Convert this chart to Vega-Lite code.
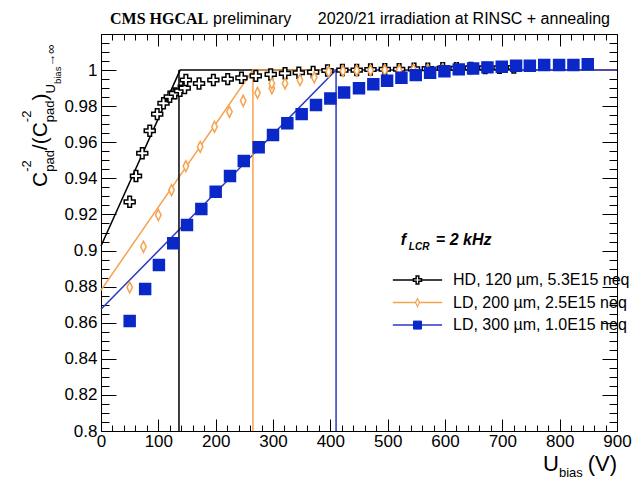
{
  "$schema": "https://vega.github.io/schema/vega-lite/v6.json",
  "width": 516,
  "height": 397,
  "autosize": {"type": "none"},
  "padding": {"left": 101, "top": 34, "right": 18, "bottom": 50},
  "background": "white",
  "config": {
    "view": {"stroke": "black", "strokeWidth": 1},
    "axis": {"domain": false, "grid": false, "tickColor": "black", "tickWidth": 1, "labelFont": "Liberation Sans", "labelFontSize": 17, "labelColor": "black", "labelFlush": false, "labelOverlap": false, "labelBound": false}
  },
  "datasets": {
    "pts": [
      {"s": "HD, 120 µm, 5.3E15 neq", "u": 50, "r": 0.927},
      {"s": "HD, 120 µm, 5.3E15 neq", "u": 61, "r": 0.9413},
      {"s": "HD, 120 µm, 5.3E15 neq", "u": 72, "r": 0.9539},
      {"s": "HD, 120 µm, 5.3E15 neq", "u": 85, "r": 0.9664},
      {"s": "HD, 120 µm, 5.3E15 neq", "u": 98, "r": 0.9756},
      {"s": "HD, 120 µm, 5.3E15 neq", "u": 109, "r": 0.9816},
      {"s": "HD, 120 µm, 5.3E15 neq", "u": 120, "r": 0.9852},
      {"s": "HD, 120 µm, 5.3E15 neq", "u": 129, "r": 0.9871},
      {"s": "HD, 120 µm, 5.3E15 neq", "u": 138, "r": 0.9885},
      {"s": "HD, 120 µm, 5.3E15 neq", "u": 146, "r": 0.990},
      {"s": "HD, 120 µm, 5.3E15 neq", "u": 148, "r": 0.9945},
      {"s": "HD, 120 µm, 5.3E15 neq", "u": 171, "r": 0.9926},
      {"s": "HD, 120 µm, 5.3E15 neq", "u": 196, "r": 0.9945},
      {"s": "HD, 120 µm, 5.3E15 neq", "u": 221, "r": 0.995},
      {"s": "HD, 120 µm, 5.3E15 neq", "u": 245, "r": 0.9957},
      {"s": "HD, 120 µm, 5.3E15 neq", "u": 270, "r": 0.9968},
      {"s": "HD, 120 µm, 5.3E15 neq", "u": 296, "r": 0.9976},
      {"s": "HD, 120 µm, 5.3E15 neq", "u": 321, "r": 0.9982},
      {"s": "HD, 120 µm, 5.3E15 neq", "u": 345, "r": 0.9985},
      {"s": "HD, 120 µm, 5.3E15 neq", "u": 370, "r": 0.9989},
      {"s": "HD, 120 µm, 5.3E15 neq", "u": 395, "r": 0.9998},
      {"s": "HD, 120 µm, 5.3E15 neq", "u": 421, "r": 1.0},
      {"s": "HD, 120 µm, 5.3E15 neq", "u": 446, "r": 1.0},
      {"s": "HD, 120 µm, 5.3E15 neq", "u": 470, "r": 1.0003},
      {"s": "HD, 120 µm, 5.3E15 neq", "u": 495, "r": 1.0005},
      {"s": "HD, 120 µm, 5.3E15 neq", "u": 520, "r": 1.0005},
      {"s": "HD, 120 µm, 5.3E15 neq", "u": 546, "r": 1.0007},
      {"s": "HD, 120 µm, 5.3E15 neq", "u": 570, "r": 1.0008},
      {"s": "HD, 120 µm, 5.3E15 neq", "u": 596, "r": 1.001},
      {"s": "HD, 120 µm, 5.3E15 neq", "u": 620, "r": 1.001},
      {"s": "HD, 120 µm, 5.3E15 neq", "u": 645, "r": 1.0012},
      {"s": "HD, 120 µm, 5.3E15 neq", "u": 670, "r": 1.0012},
      {"s": "HD, 120 µm, 5.3E15 neq", "u": 695, "r": 1.0013},
      {"s": "HD, 120 µm, 5.3E15 neq", "u": 720, "r": 1.0014},
      {"s": "LD, 200 µm, 2.5E15 neq", "u": 50, "r": 0.8796},
      {"s": "LD, 200 µm, 2.5E15 neq", "u": 74, "r": 0.9021},
      {"s": "LD, 200 µm, 2.5E15 neq", "u": 100, "r": 0.9197},
      {"s": "LD, 200 µm, 2.5E15 neq", "u": 123, "r": 0.9335},
      {"s": "LD, 200 µm, 2.5E15 neq", "u": 148, "r": 0.9468},
      {"s": "LD, 200 µm, 2.5E15 neq", "u": 173, "r": 0.9575},
      {"s": "LD, 200 µm, 2.5E15 neq", "u": 198, "r": 0.9686},
      {"s": "LD, 200 µm, 2.5E15 neq", "u": 224, "r": 0.9769},
      {"s": "LD, 200 µm, 2.5E15 neq", "u": 248, "r": 0.983},
      {"s": "LD, 200 µm, 2.5E15 neq", "u": 273, "r": 0.9874},
      {"s": "LD, 200 µm, 2.5E15 neq", "u": 298, "r": 0.9899},
      {"s": "LD, 200 µm, 2.5E15 neq", "u": 298, "r": 0.9926},
      {"s": "LD, 200 µm, 2.5E15 neq", "u": 321, "r": 0.9926},
      {"s": "LD, 200 µm, 2.5E15 neq", "u": 347, "r": 0.9945},
      {"s": "LD, 200 µm, 2.5E15 neq", "u": 372, "r": 0.996},
      {"s": "LD, 200 µm, 2.5E15 neq", "u": 397, "r": 0.9991},
      {"s": "LD, 200 µm, 2.5E15 neq", "u": 422, "r": 0.9995},
      {"s": "LD, 200 µm, 2.5E15 neq", "u": 446, "r": 0.9997},
      {"s": "LD, 200 µm, 2.5E15 neq", "u": 470, "r": 0.9998},
      {"s": "LD, 200 µm, 2.5E15 neq", "u": 495, "r": 1.0},
      {"s": "LD, 200 µm, 2.5E15 neq", "u": 520, "r": 1.0},
      {"s": "LD, 200 µm, 2.5E15 neq", "u": 545, "r": 1.0002},
      {"s": "LD, 200 µm, 2.5E15 neq", "u": 570, "r": 1.0003},
      {"s": "LD, 200 µm, 2.5E15 neq", "u": 596, "r": 1.0004},
      {"s": "LD, 200 µm, 2.5E15 neq", "u": 620, "r": 1.0005},
      {"s": "LD, 200 µm, 2.5E15 neq", "u": 645, "r": 1.0005},
      {"s": "LD, 300 µm, 1.0E15 neq", "u": 50, "r": 0.861},
      {"s": "LD, 300 µm, 1.0E15 neq", "u": 77, "r": 0.8787},
      {"s": "LD, 300 µm, 1.0E15 neq", "u": 101, "r": 0.892},
      {"s": "LD, 300 µm, 1.0E15 neq", "u": 126, "r": 0.904},
      {"s": "LD, 300 µm, 1.0E15 neq", "u": 150, "r": 0.9141},
      {"s": "LD, 300 µm, 1.0E15 neq", "u": 175, "r": 0.923},
      {"s": "LD, 300 µm, 1.0E15 neq", "u": 200, "r": 0.9326},
      {"s": "LD, 300 µm, 1.0E15 neq", "u": 225, "r": 0.9413},
      {"s": "LD, 300 µm, 1.0E15 neq", "u": 249, "r": 0.9496},
      {"s": "LD, 300 µm, 1.0E15 neq", "u": 275, "r": 0.9572},
      {"s": "LD, 300 µm, 1.0E15 neq", "u": 300, "r": 0.964},
      {"s": "LD, 300 µm, 1.0E15 neq", "u": 325, "r": 0.9705},
      {"s": "LD, 300 µm, 1.0E15 neq", "u": 350, "r": 0.9756},
      {"s": "LD, 300 µm, 1.0E15 neq", "u": 375, "r": 0.9806},
      {"s": "LD, 300 µm, 1.0E15 neq", "u": 400, "r": 0.9843},
      {"s": "LD, 300 µm, 1.0E15 neq", "u": 424, "r": 0.9876},
      {"s": "LD, 300 µm, 1.0E15 neq", "u": 450, "r": 0.9899},
      {"s": "LD, 300 µm, 1.0E15 neq", "u": 475, "r": 0.9921},
      {"s": "LD, 300 µm, 1.0E15 neq", "u": 499, "r": 0.9941},
      {"s": "LD, 300 µm, 1.0E15 neq", "u": 524, "r": 0.9957},
      {"s": "LD, 300 µm, 1.0E15 neq", "u": 549, "r": 0.9972},
      {"s": "LD, 300 µm, 1.0E15 neq", "u": 574, "r": 0.9985},
      {"s": "LD, 300 µm, 1.0E15 neq", "u": 599, "r": 0.9994},
      {"s": "LD, 300 µm, 1.0E15 neq", "u": 624, "r": 1.0004},
      {"s": "LD, 300 µm, 1.0E15 neq", "u": 649, "r": 1.0009},
      {"s": "LD, 300 µm, 1.0E15 neq", "u": 674, "r": 1.0015},
      {"s": "LD, 300 µm, 1.0E15 neq", "u": 699, "r": 1.0018},
      {"s": "LD, 300 µm, 1.0E15 neq", "u": 724, "r": 1.0024},
      {"s": "LD, 300 µm, 1.0E15 neq", "u": 748, "r": 1.0024},
      {"s": "LD, 300 µm, 1.0E15 neq", "u": 773, "r": 1.0028},
      {"s": "LD, 300 µm, 1.0E15 neq", "u": 799, "r": 1.0028},
      {"s": "LD, 300 µm, 1.0E15 neq", "u": 824, "r": 1.0028},
      {"s": "LD, 300 µm, 1.0E15 neq", "u": 849, "r": 1.0032}
    ],
    "fit": [
      {"s": "HD, 120 µm, 5.3E15 neq", "u": 0, "r": 0.9025},
      {"s": "HD, 120 µm, 5.3E15 neq", "u": 138, "r": 1.0},
      {"s": "HD, 120 µm, 5.3E15 neq", "u": 900, "r": 1.0},
      {"s": "LD, 200 µm, 2.5E15 neq", "u": 0, "r": 0.878},
      {"s": "LD, 200 µm, 2.5E15 neq", "u": 265, "r": 1.0},
      {"s": "LD, 200 µm, 2.5E15 neq", "u": 900, "r": 1.0},
      {"s": "LD, 300 µm, 1.0E15 neq", "u": 0, "r": 0.8675},
      {"s": "LD, 300 µm, 1.0E15 neq", "u": 410, "r": 1.0},
      {"s": "LD, 300 µm, 1.0E15 neq", "u": 900, "r": 1.0}
    ],
    "vdep": [
      {"s": "HD, 120 µm, 5.3E15 neq", "u": 136, "lo": 0.8, "hi": 1.0},
      {"s": "LD, 200 µm, 2.5E15 neq", "u": 265, "lo": 0.8, "hi": 1.0},
      {"s": "LD, 300 µm, 1.0E15 neq", "u": 410, "lo": 0.8, "hi": 1.0}
    ]
  },
  "resolve": {"axis": {"x": "independent", "y": "independent"}},
  "layer": [
    {
      "data": {"name": "fit"},
      "mark": {"type": "line", "strokeWidth": 1.5},
      "encoding": {
        "x": {"field": "u", "type": "quantitative", "scale": {"domain": [0, 900], "nice": false, "zero": false},
          "axis": {"orient": "bottom", "title": null, "values": [0,20,40,60,80,100,120,140,160,180,200,220,240,260,280,300,320,340,360,380,400,420,440,460,480,500,520,540,560,580,600,620,640,660,680,700,720,740,760,780,800,820,840,860,880,900],
            "tickSize": {"condition": {"test": "datum.value % 100 === 0", "value": -12}, "value": -6},
            "labelExpr": "datum.value % 100 === 0 ? datum.label : ''", "labelPadding": 14}},
        "y": {"field": "r", "type": "quantitative", "scale": {"domain": [0.8, 1.02], "nice": false, "zero": false},
          "axis": {"orient": "left", "title": null, "format": "~g", "values": [0.8,0.805,0.81,0.815,0.82,0.825,0.83,0.835,0.84,0.845,0.85,0.855,0.86,0.865,0.87,0.875,0.88,0.885,0.89,0.895,0.9,0.905,0.91,0.915,0.92,0.925,0.93,0.935,0.94,0.945,0.95,0.955,0.96,0.965,0.97,0.975,0.98,0.985,0.99,0.995,1.0,1.005,1.01,1.015,1.02],
            "tickSize": {"condition": {"test": "abs(datum.value*50 - round(datum.value*50)) < 0.001", "value": -15}, "value": -8},
            "labelExpr": "abs(datum.value*50 - round(datum.value*50)) < 0.001 && datum.value < 1.01 ? datum.label : ''", "labelPadding": 19}},
        "color": {"field": "s", "type": "nominal", "legend": null,
          "scale": {"domain": ["HD, 120 µm, 5.3E15 neq", "LD, 200 µm, 2.5E15 neq", "LD, 300 µm, 1.0E15 neq"], "range": ["#000000", "#f7a24f", "#2a38c6"]}},
        "detail": {"field": "s"}
      }
    },
    {
      "data": {"name": "vdep"},
      "mark": {"type": "rule", "strokeWidth": 1.5},
      "encoding": {
        "x": {"field": "u", "type": "quantitative",
          "axis": {"orient": "top", "title": null, "labels": false, "values": [0,20,40,60,80,100,120,140,160,180,200,220,240,260,280,300,320,340,360,380,400,420,440,460,480,500,520,540,560,580,600,620,640,660,680,700,720,740,760,780,800,820,840,860,880,900],
            "tickSize": {"condition": {"test": "datum.value % 100 === 0", "value": -12}, "value": -6}}},
        "y": {"field": "lo", "type": "quantitative",
          "axis": {"orient": "right", "title": null, "labels": false, "values": [0.8,0.805,0.81,0.815,0.82,0.825,0.83,0.835,0.84,0.845,0.85,0.855,0.86,0.865,0.87,0.875,0.88,0.885,0.89,0.895,0.9,0.905,0.91,0.915,0.92,0.925,0.93,0.935,0.94,0.945,0.95,0.955,0.96,0.965,0.97,0.975,0.98,0.985,0.99,0.995,1.0,1.005,1.01,1.015,1.02],
            "tickSize": {"condition": {"test": "abs(datum.value*50 - round(datum.value*50)) < 0.001", "value": -15}, "value": -8}}},
        "y2": {"field": "hi"},
        "color": {"field": "s", "type": "nominal", "legend": null}
      }
    },
    {
      "data": {"name": "pts"},
      "mark": {"type": "point", "filled": true, "size": 120, "strokeWidth": 1.5, "opacity": 1},
      "encoding": {
        "x": {"field": "u", "type": "quantitative", "axis": null},
        "y": {"field": "r", "type": "quantitative", "axis": null},
        "stroke": {"field": "s", "type": "nominal", "legend": null,
          "scale": {"domain": ["HD, 120 µm, 5.3E15 neq", "LD, 200 µm, 2.5E15 neq", "LD, 300 µm, 1.0E15 neq"], "range": ["#000000", "#f7a24f", "#0a28c8"]}},
        "fill": {"field": "s", "type": "nominal", "legend": null,
          "scale": {"domain": ["HD, 120 µm, 5.3E15 neq", "LD, 200 µm, 2.5E15 neq", "LD, 300 µm, 1.0E15 neq"], "range": ["#ffffff", "#ffffff", "#0a28c8"]}},
        "shape": {"field": "s", "type": "nominal", "legend": null,
          "scale": {"domain": ["HD, 120 µm, 5.3E15 neq", "LD, 200 µm, 2.5E15 neq", "LD, 300 µm, 1.0E15 neq"], "range": ["M-0.33,-1H0.33V-0.33H1V0.33H0.33V1H-0.33V0.33H-1V-0.33H-0.33Z", "M0,-1L0.5,0L0,1L-0.5,0Z", "square"]}}
      }
    },
    {"data": {"values": [{}]}, "mark": {"type": "rule", "strokeWidth": 1.5, "color": "#000000"},
     "encoding": {"x": {"datum": 509, "type": "quantitative", "axis": null}, "x2": {"datum": 595}, "y": {"datum": 0.8837, "type": "quantitative", "axis": null}}},
    {"data": {"values": [{}]}, "mark": {"type": "point", "filled": true, "size": 64, "strokeWidth": 1.5, "fill": "#ffffff", "stroke": "#000000", "opacity": 1, "shape": "M-0.33,-1H0.33V-0.33H1V0.33H0.33V1H-0.33V0.33H-1V-0.33H-0.33Z"},
     "encoding": {"x": {"datum": 552, "type": "quantitative", "axis": null}, "y": {"datum": 0.8837, "type": "quantitative", "axis": null}}},
    {"data": {"values": [{}]}, "mark": {"type": "text", "text": "HD, 120 µm, 5.3E15 neq", "font": "Liberation Sans", "fontSize": 16, "align": "left", "baseline": "middle", "color": "black"},
     "encoding": {"x": {"datum": 614, "type": "quantitative", "axis": null}, "y": {"datum": 0.8837, "type": "quantitative", "axis": null}}},
    {"data": {"values": [{}]}, "mark": {"type": "rule", "strokeWidth": 1.5, "color": "#f7a24f"},
     "encoding": {"x": {"datum": 509, "type": "quantitative", "axis": null}, "x2": {"datum": 595}, "y": {"datum": 0.8712, "type": "quantitative", "axis": null}}},
    {"data": {"values": [{}]}, "mark": {"type": "point", "filled": true, "size": 64, "strokeWidth": 1.2, "fill": "#ffffff", "stroke": "#f7a24f", "opacity": 1, "shape": "M0,-1L0.5,0L0,1L-0.5,0Z"},
     "encoding": {"x": {"datum": 552, "type": "quantitative", "axis": null}, "y": {"datum": 0.8712, "type": "quantitative", "axis": null}}},
    {"data": {"values": [{}]}, "mark": {"type": "text", "text": "LD, 200 µm, 2.5E15 neq", "font": "Liberation Sans", "fontSize": 16, "align": "left", "baseline": "middle", "color": "black"},
     "encoding": {"x": {"datum": 614, "type": "quantitative", "axis": null}, "y": {"datum": 0.8712, "type": "quantitative", "axis": null}}},
    {"data": {"values": [{}]}, "mark": {"type": "rule", "strokeWidth": 1.5, "color": "#2a38c6"},
     "encoding": {"x": {"datum": 509, "type": "quantitative", "axis": null}, "x2": {"datum": 595}, "y": {"datum": 0.8587, "type": "quantitative", "axis": null}}},
    {"data": {"values": [{}]}, "mark": {"type": "point", "filled": true, "size": 64, "strokeWidth": 1, "fill": "#0a28c8", "stroke": "#0a28c8", "opacity": 1, "shape": "square"},
     "encoding": {"x": {"datum": 552, "type": "quantitative", "axis": null}, "y": {"datum": 0.8587, "type": "quantitative", "axis": null}}},
    {"data": {"values": [{}]}, "mark": {"type": "text", "text": "LD, 300 µm, 1.0E15 neq", "font": "Liberation Sans", "fontSize": 16, "align": "left", "baseline": "middle", "color": "black"},
     "encoding": {"x": {"datum": 614, "type": "quantitative", "axis": null}, "y": {"datum": 0.8587, "type": "quantitative", "axis": null}}},
    {"data": {"values": [{}]}, "mark": {"type": "text", "text": "CMS HGCAL", "font": "Liberation Serif", "fontWeight": "bold", "fontSize": 16, "align": "left", "baseline": "alphabetic", "dx": 9, "dy": -10, "color": "black"},
     "encoding": {"x": {"datum": 0, "type": "quantitative", "axis": null}, "y": {"datum": 1.02, "type": "quantitative", "axis": null}}},
    {"data": {"values": [{}]}, "mark": {"type": "text", "text": "preliminary", "font": "Liberation Sans", "fontSize": 16, "align": "left", "baseline": "alphabetic", "dx": 112, "dy": -10, "color": "black"},
     "encoding": {"x": {"datum": 0, "type": "quantitative", "axis": null}, "y": {"datum": 1.02, "type": "quantitative", "axis": null}}},
    {"data": {"values": [{}]}, "mark": {"type": "text", "text": "2020/21 irradiation at RINSC + annealing", "font": "Liberation Sans", "fontSize": 16, "align": "right", "baseline": "alphabetic", "dx": -7, "dy": -10, "color": "black"},
     "encoding": {"x": {"datum": 900, "type": "quantitative", "axis": null}, "y": {"datum": 1.02, "type": "quantitative", "axis": null}}},
    {"data": {"values": [{}]}, "mark": {"type": "text", "text": "(V)", "font": "Liberation Sans", "fontSize": 22, "align": "right", "baseline": "alphabetic", "dx": 0, "dy": 40, "color": "black"},
     "encoding": {"x": {"datum": 900, "type": "quantitative", "axis": null}, "y": {"datum": 0.8, "type": "quantitative", "axis": null}}},
    {"data": {"values": [{}]}, "mark": {"type": "text", "text": "U", "font": "Liberation Sans", "fontSize": 22, "align": "left", "baseline": "alphabetic", "dx": -74, "dy": 40, "color": "black"},
     "encoding": {"x": {"datum": 900, "type": "quantitative", "axis": null}, "y": {"datum": 0.8, "type": "quantitative", "axis": null}}},
    {"data": {"values": [{}]}, "mark": {"type": "text", "text": "bias", "font": "Liberation Sans", "fontSize": 13, "align": "left", "baseline": "alphabetic", "dx": -58, "dy": 46, "color": "black"},
     "encoding": {"x": {"datum": 900, "type": "quantitative", "axis": null}, "y": {"datum": 0.8, "type": "quantitative", "axis": null}}},
    {"data": {"values": [{}]}, "mark": {"type": "text", "text": "f", "font": "Liberation Sans", "fontWeight": "bold", "fontStyle": "italic", "fontSize": 16, "align": "left", "baseline": "alphabetic", "dx": 0, "dy": 0, "color": "black"},
     "encoding": {"x": {"datum": 523, "type": "quantitative", "axis": null}, "y": {"datum": 0.903, "type": "quantitative", "axis": null}}},
    {"data": {"values": [{}]}, "mark": {"type": "text", "text": "LCR", "font": "Liberation Sans", "fontWeight": "bold", "fontStyle": "italic", "fontSize": 10, "align": "left", "baseline": "alphabetic", "dx": 8, "dy": 5, "color": "black"},
     "encoding": {"x": {"datum": 523, "type": "quantitative", "axis": null}, "y": {"datum": 0.903, "type": "quantitative", "axis": null}}},
    {"data": {"values": [{}]}, "mark": {"type": "text", "text": "= 2 kHz", "font": "Liberation Sans", "fontWeight": "bold", "fontStyle": "italic", "fontSize": 16, "align": "left", "baseline": "alphabetic", "dx": 35, "dy": 0, "color": "black"},
     "encoding": {"x": {"datum": 523, "type": "quantitative", "axis": null}, "y": {"datum": 0.903, "type": "quantitative", "axis": null}}},
    {"data": {"values": [{}]}, "mark": {"type": "text", "text": "C", "font": "Liberation Sans", "fontSize": 21, "angle": 270, "align": "left", "baseline": "alphabetic", "dx": 0, "dy": -54, "color": "black"},
     "encoding": {"x": {"datum": 0, "type": "quantitative", "axis": null}, "y": {"datum": 0.9352, "type": "quantitative", "axis": null}}},
    {"data": {"values": [{}]}, "mark": {"type": "text", "text": "-2", "font": "Liberation Sans", "fontSize": 13, "angle": 270, "align": "left", "baseline": "alphabetic", "dx": 15.2, "dy": -70, "color": "black"},
     "encoding": {"x": {"datum": 0, "type": "quantitative", "axis": null}, "y": {"datum": 0.9352, "type": "quantitative", "axis": null}}},
    {"data": {"values": [{}]}, "mark": {"type": "text", "text": "pad", "font": "Liberation Sans", "fontSize": 13, "angle": 270, "align": "left", "baseline": "alphabetic", "dx": 15.2, "dy": -47, "color": "black"},
     "encoding": {"x": {"datum": 0, "type": "quantitative", "axis": null}, "y": {"datum": 0.9352, "type": "quantitative", "axis": null}}},
    {"data": {"values": [{}]}, "mark": {"type": "text", "text": "/(", "font": "Liberation Sans", "fontSize": 21, "angle": 270, "align": "left", "baseline": "alphabetic", "dx": 36.9, "dy": -54, "color": "black"},
     "encoding": {"x": {"datum": 0, "type": "quantitative", "axis": null}, "y": {"datum": 0.9352, "type": "quantitative", "axis": null}}},
    {"data": {"values": [{}]}, "mark": {"type": "text", "text": "C", "font": "Liberation Sans", "fontSize": 21, "angle": 270, "align": "left", "baseline": "alphabetic", "dx": 49.7, "dy": -54, "color": "black"},
     "encoding": {"x": {"datum": 0, "type": "quantitative", "axis": null}, "y": {"datum": 0.9352, "type": "quantitative", "axis": null}}},
    {"data": {"values": [{}]}, "mark": {"type": "text", "text": "-2", "font": "Liberation Sans", "fontSize": 13, "angle": 270, "align": "left", "baseline": "alphabetic", "dx": 64.9, "dy": -70, "color": "black"},
     "encoding": {"x": {"datum": 0, "type": "quantitative", "axis": null}, "y": {"datum": 0.9352, "type": "quantitative", "axis": null}}},
    {"data": {"values": [{}]}, "mark": {"type": "text", "text": "pad", "font": "Liberation Sans", "fontSize": 13, "angle": 270, "align": "left", "baseline": "alphabetic", "dx": 64.9, "dy": -47, "color": "black"},
     "encoding": {"x": {"datum": 0, "type": "quantitative", "axis": null}, "y": {"datum": 0.9352, "type": "quantitative", "axis": null}}},
    {"data": {"values": [{}]}, "mark": {"type": "text", "text": ")", "font": "Liberation Sans", "fontSize": 21, "angle": 270, "align": "left", "baseline": "alphabetic", "dx": 86.6, "dy": -54, "color": "black"},
     "encoding": {"x": {"datum": 0, "type": "quantitative", "axis": null}, "y": {"datum": 0.9352, "type": "quantitative", "axis": null}}},
    {"data": {"values": [{}]}, "mark": {"type": "text", "text": "U", "font": "Liberation Sans", "fontSize": 13, "angle": 270, "align": "left", "baseline": "alphabetic", "dx": 93.6, "dy": -46, "color": "black"},
     "encoding": {"x": {"datum": 0, "type": "quantitative", "axis": null}, "y": {"datum": 0.9352, "type": "quantitative", "axis": null}}},
    {"data": {"values": [{}]}, "mark": {"type": "text", "text": "bias", "font": "Liberation Sans", "fontSize": 9.5, "angle": 270, "align": "left", "baseline": "alphabetic", "dx": 103, "dy": -40, "color": "black"},
     "encoding": {"x": {"datum": 0, "type": "quantitative", "axis": null}, "y": {"datum": 0.9352, "type": "quantitative", "axis": null}}},
    {"data": {"values": [{}]}, "mark": {"type": "text", "text": "→∞", "font": "Liberation Sans", "fontSize": 13, "angle": 270, "align": "left", "baseline": "alphabetic", "dx": 120.4, "dy": -46, "color": "black"},
     "encoding": {"x": {"datum": 0, "type": "quantitative", "axis": null}, "y": {"datum": 0.9352, "type": "quantitative", "axis": null}}}
  ]
}
